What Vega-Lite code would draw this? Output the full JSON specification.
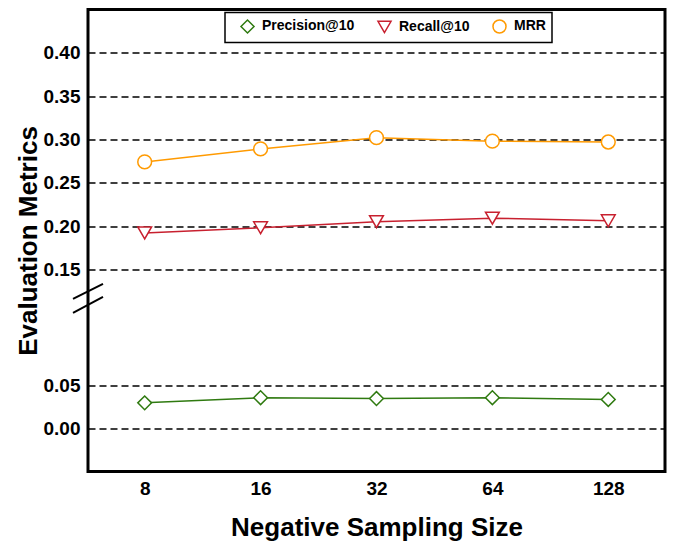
{
  "$schema": "https://vega.github.io/schema/vega-lite/v6.json",
  "autosize": {"type": "none"},
  "width": 577,
  "height": 462,
  "padding": {"left": 88, "top": 9.5, "right": 10, "bottom": 70.5},
  "background": "white",
  "config": {
    "font": "Liberation Sans",
    "view": {"stroke": "black", "strokeWidth": 3},
    "axis": {"labelFont": "Liberation Sans", "labelFontWeight": "bold", "titleFont": "Liberation Sans", "titleFontWeight": "bold", "labelColor": "black", "titleColor": "black"},
    "legend": {"orient": "none", "legendX": 137, "legendY": 3, "direction": "horizontal", "strokeColor": "black", "strokeWidth": 1.5, "padding": 6, "labelFont": "Liberation Sans", "labelFontWeight": "bold", "labelFontSize": 14, "labelColor": "black", "labelOffset": 7, "symbolSize": 170, "symbolStrokeWidth": 1.5, "symbolOffset": 9, "columnPadding": 13, "fillColor": "white"}
  },
  "datasets": {
    "metrics": [
      {"size": 8, "metric": "Precision@10", "value": 0.030},
      {"size": 16, "metric": "Precision@10", "value": 0.036},
      {"size": 32, "metric": "Precision@10", "value": 0.035},
      {"size": 64, "metric": "Precision@10", "value": 0.036},
      {"size": 128, "metric": "Precision@10", "value": 0.034},
      {"size": 8, "metric": "Recall@10", "value": 0.192},
      {"size": 16, "metric": "Recall@10", "value": 0.198},
      {"size": 32, "metric": "Recall@10", "value": 0.205},
      {"size": 64, "metric": "Recall@10", "value": 0.209},
      {"size": 128, "metric": "Recall@10", "value": 0.206},
      {"size": 8, "metric": "MRR", "value": 0.274},
      {"size": 16, "metric": "MRR", "value": 0.289},
      {"size": 32, "metric": "MRR", "value": 0.302},
      {"size": 64, "metric": "MRR", "value": 0.298},
      {"size": 128, "metric": "MRR", "value": 0.297}
    ],
    "brk": [{"size": 5.7, "value": 0.125}]
  },
  "layer": [
    {
      "data": {"name": "metrics"},
      "mark": {"type": "line", "strokeWidth": 1.5},
      "encoding": {
        "x": {"field": "size", "type": "quantitative",
          "scale": {"type": "log", "base": 2, "domain": [5.7, 179.7], "nice": false},
          "axis": {"values": [8, 16, 32, 64, 128], "format": "d", "grid": false, "ticks": false, "domain": false, "labelFontSize": 19, "labelPadding": 8, "title": "Negative Sampling Size", "titleFontSize": 26, "titlePadding": 16}},
        "y": {"field": "value", "type": "quantitative",
          "scale": {"domain": [-0.05, 0.05, 0.15, 0.45], "range": [462, 376.2, 259.8, 0], "nice": false, "zero": false},
          "axis": {"values": [0, 0.05, 0.15, 0.2, 0.25, 0.3, 0.35, 0.4], "format": ".2f", "grid": true, "gridColor": "black", "gridDash": [7, 4], "gridWidth": 1.3, "gridOpacity": 1, "ticks": false, "domain": false, "labelFontSize": 19, "labelPadding": 8, "title": "Evaluation Metrics", "titleFontSize": 26, "titlePadding": 2}},
        "color": {"field": "metric", "type": "nominal",
          "scale": {"domain": ["Precision@10", "Recall@10", "MRR"], "range": ["#2f7a10", "#c8202f", "#ff9a00"]},
          "legend": {"title": null}}
      }
    },
    {
      "data": {"name": "metrics"},
      "mark": {"type": "point", "filled": false, "fill": "white", "fillOpacity": 1, "strokeWidth": 1.5, "opacity": 1, "size": 190},
      "encoding": {
        "x": {"field": "size", "type": "quantitative"},
        "y": {"field": "value", "type": "quantitative"},
        "color": {"field": "metric", "type": "nominal",
          "scale": {"domain": ["Precision@10", "Recall@10", "MRR"], "range": ["#2f7a10", "#c8202f", "#ff9a00"]}},
        "shape": {"field": "metric", "type": "nominal",
          "scale": {"domain": ["Precision@10", "Recall@10", "MRR"], "range": ["diamond", "triangle-down", "circle"]},
          "legend": {"title": null}}
      }
    },
    {
      "data": {"name": "brk"},
      "mark": {"type": "point", "shape": "M-1,0.03L1,-0.97M-1,0.97L1,-0.1", "size": 900, "filled": false, "stroke": "black", "strokeWidth": 2, "opacity": 1},
      "encoding": {
        "x": {"field": "size", "type": "quantitative"},
        "y": {"field": "value", "type": "quantitative"}
      }
    }
  ]
}
